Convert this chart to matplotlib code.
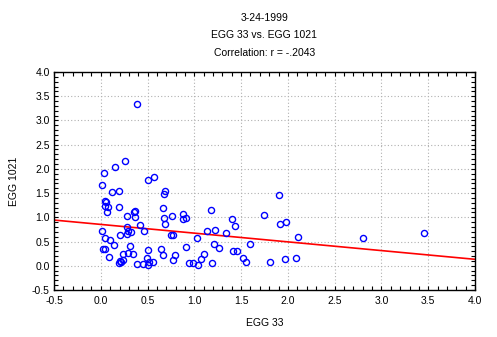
"""Scatterplot EGG 33 vs. EGG 1021 with linear fit"""

import matplotlib

matplotlib.use("Agg")
import matplotlib.pyplot as plt
import numpy as np
from matplotlib.ticker import MultipleLocator

plt.rcParams["font.family"] = ["Liberation Sans", "DejaVu Sans"]

# data
egg33 = [
    0.388, 0.035, 0.153, 0.26, 0.505, 0.57, 0.014, 0.121, 0.196, 0.687,
    0.676, 0.05, 0.06, 0.046, 0.078, 0.067, 0.196, 0.37, 0.36, 0.363,
    0.281, 0.666, 0.676, 0.762, 0.687, 0.88, 0.88, 0.915, 1.178, 1.40,
    1.435, 1.745, 1.905, 1.916, 1.98, 2.11, 2.80, 3.45, 0.42, 0.281,
    0.292, 0.32, 0.278, 0.463, 0.014, 0.206, 0.046, 0.10, 0.142, 0.313,
    0.025, 0.046, 0.505, 0.089, 0.235, 0.292, 0.345, 0.20, 0.235, 0.192,
    0.221, 0.495, 0.388, 0.452, 0.505, 0.555, 0.516, 0.751, 0.773, 1.136,
    1.221, 1.34, 1.029, 0.911, 1.21, 1.264, 1.595, 0.645, 0.666, 0.794,
    0.773, 1.104, 1.075, 0.943, 0.986, 1.044, 1.193, 1.413, 1.456, 1.52,
    1.552, 1.809, 1.969, 2.087,
]
egg1021 = [
    3.34, 1.915, 2.04, 2.16, 1.77, 1.83, 1.667, 1.52, 1.54, 1.54,
    1.48, 1.34, 1.31, 1.23, 1.21, 1.12, 1.21, 1.14, 1.11, 1.01,
    1.03, 1.19, 0.985, 1.027, 0.86, 1.07, 0.975, 0.985, 1.15, 0.965,
    0.82, 1.047, 1.46, 0.86, 0.90, 0.593, 0.572, 0.676, 0.847, 0.806,
    0.723, 0.696, 0.655, 0.723, 0.723, 0.634, 0.578, 0.537, 0.427, 0.407,
    0.345, 0.345, 0.324, 0.186, 0.242, 0.262, 0.242, 0.097, 0.118, 0.055,
    0.076, 0.16, 0.035, 0.035, 0.014, 0.076, 0.076, 0.634, 0.634, 0.717,
    0.737, 0.676, 0.572, 0.386, 0.448, 0.366, 0.448, 0.345, 0.22, 0.22,
    0.118, 0.242, 0.138, 0.055, 0.055, 0.014, 0.055, 0.303, 0.303, 0.16,
    0.076, 0.076, 0.138, 0.16,
]

titles = ["3-24-1999", "EGG 33 vs. EGG 1021", "Correlation: r = -.2043"]
x_label = "EGG 33"
y_label = "EGG 1021"

x = np.array(egg33)
y = np.array(egg1021)

fig = plt.figure(figsize=(4.97, 3.37), dpi=100, facecolor="white")
ax = fig.add_axes([0.1087, 0.1395, 0.847, 0.6469])

ax.plot(x, y, "o", markerfacecolor="none", markeredgecolor="#0000ff",
        markersize=4.4, markeredgewidth=1.0, zorder=3)

# regression line
slope, intercept = np.polyfit(x, y, 1)
xs = np.array([-0.5, 4.0])
ax.plot(xs, slope * xs + intercept, color="#ff0000", linewidth=1.2, zorder=2)

ax.set_xlim(-0.5, 4.0)
ax.set_ylim(-0.5, 4.0)
ax.xaxis.set_major_locator(MultipleLocator(0.5))
ax.yaxis.set_major_locator(MultipleLocator(0.5))
ax.xaxis.set_minor_locator(MultipleLocator(0.1))
ax.yaxis.set_minor_locator(MultipleLocator(0.1))
ax.xaxis.set_major_formatter(lambda v, p: f"{v:.1f}")
ax.yaxis.set_major_formatter(lambda v, p: f"{v:.1f}")

ax.tick_params(which="both", direction="in", top=True, right=True,
               length=3, width=0.8, labelsize=7.5)
ax.tick_params(axis="x", pad=4)
ax.tick_params(axis="y", pad=3)
ax.grid(True, which="major", color="#b0b0b0", linestyle=(0, (1, 2)), linewidth=0.8)
for s in ax.spines.values():
    s.set_linewidth(1.0)

ax.set_xlabel(x_label, fontsize=7.5, labelpad=9)
ax.set_ylabel(y_label, fontsize=7.5, labelpad=9)

for ty, t in zip([0.946, 0.896, 0.843], titles):
    fig.text(0.532, ty, t, ha="center", va="center", fontsize=7.5)

fig.savefig("out.png", dpi=100, facecolor="white")
